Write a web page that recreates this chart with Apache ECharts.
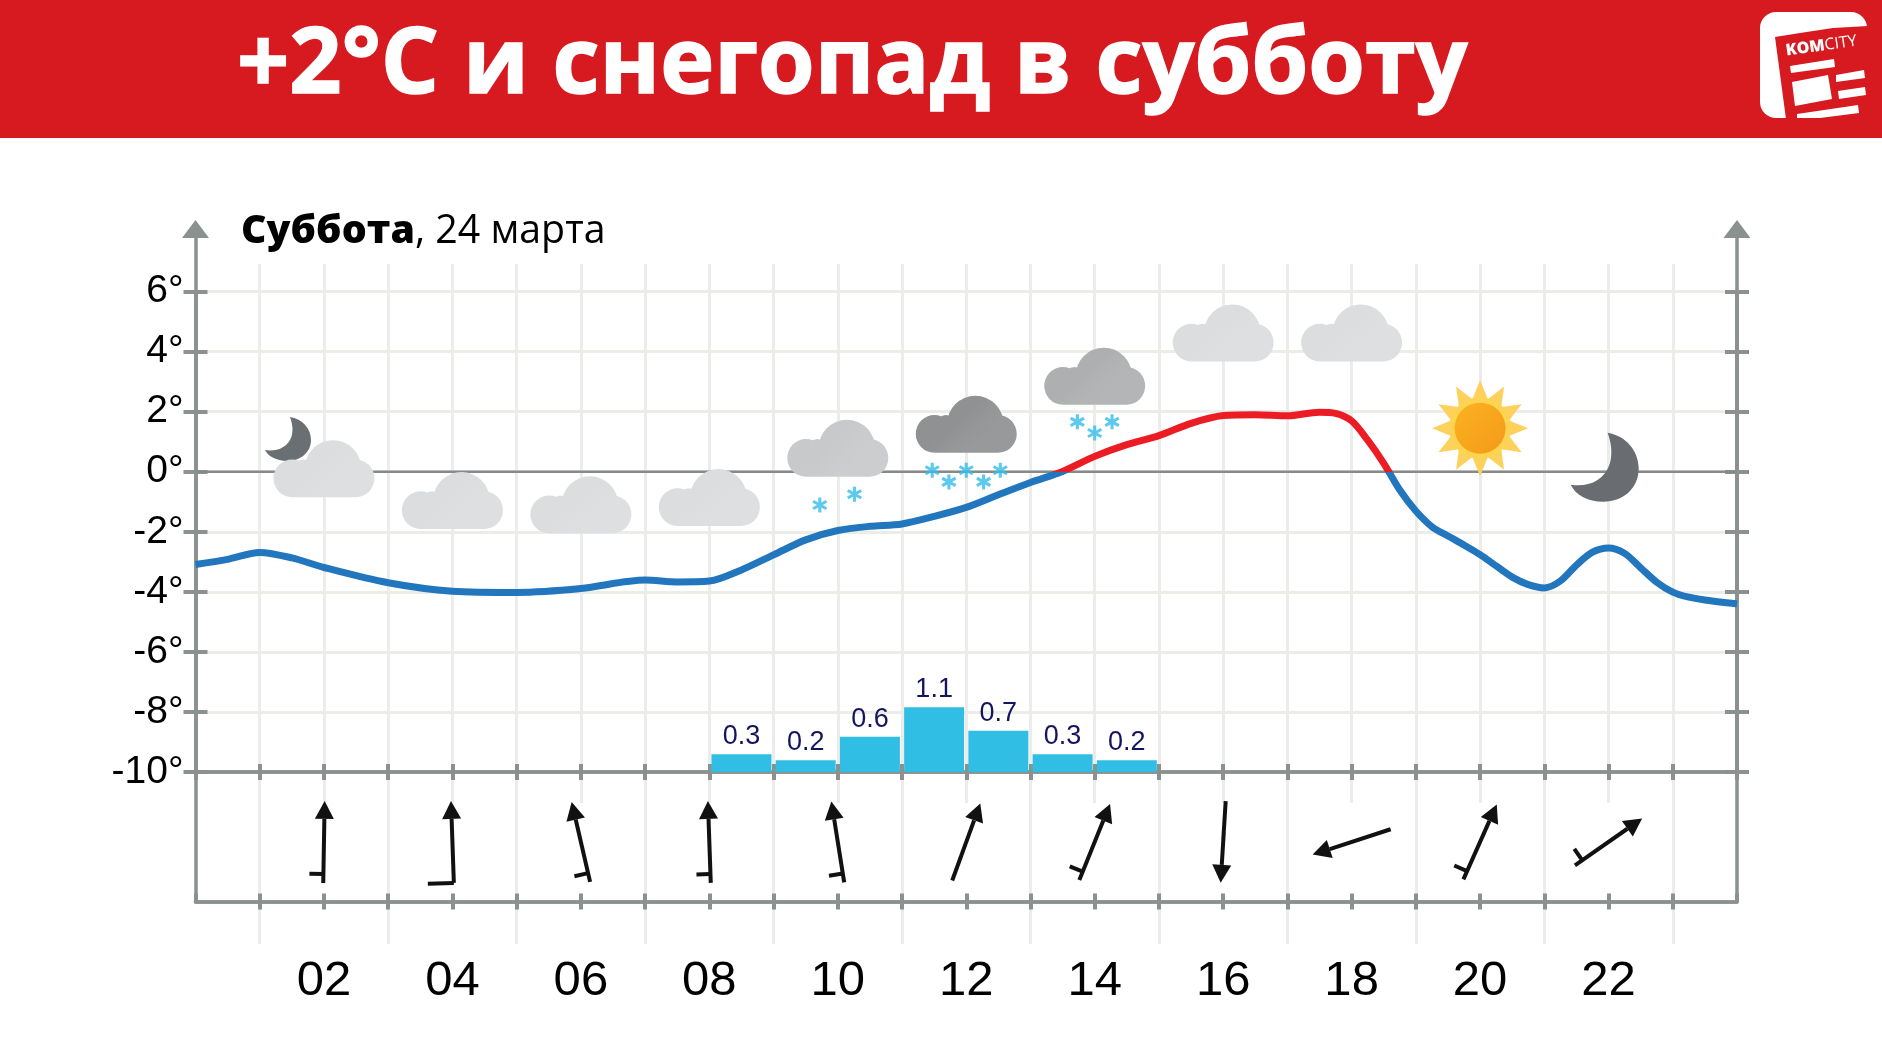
<!DOCTYPE html>
<html lang="ru">
<head>
<meta charset="utf-8">
<title>+2°C и снегопад в субботу</title>
<style>html,body{margin:0;padding:0;background:#fff}#chart{width:1882px;height:1060px}</style>
<script src="https://cdn.jsdelivr.net/npm/echarts@6/dist/echarts.min.js"></script>
</head>
<body>
<div id="chart"></div>
<script>
// ---------- data ----------
const headline = '+2°C и снегопад в субботу';
const dayName = 'Суббота';
const dateText = ', 24 марта';
const tempHours = [0,0.5,1,1.5,2,3,4,5,6,7,7.5,8,8.5,9,9.5,10,10.5,11,11.5,12,12.5,13,13.5,14,14.5,15,15.5,16,16.5,17,17.5,17.75,18,18.25,18.5,18.75,19,19.25,19.5,19.75,20,20.25,20.5,20.75,21,21.25,21.5,21.75,22,22.25,22.5,22.75,23,23.25,23.5,24];
const tempValues = [-3.09,-2.92,-2.69,-2.87,-3.19,-3.7,-3.98,-4.02,-3.89,-3.61,-3.67,-3.64,-3.27,-2.77,-2.27,-1.96,-1.82,-1.74,-1.49,-1.19,-0.77,-0.36,0.01,0.51,0.9,1.2,1.61,1.87,1.9,1.86,1.98,1.94,1.69,1.05,0.28,-0.61,-1.31,-1.83,-2.14,-2.44,-2.76,-3.14,-3.51,-3.76,-3.87,-3.64,-3.11,-2.68,-2.54,-2.72,-3.2,-3.68,-4.01,-4.18,-4.27,-4.4];
const precipHours = [8.5,9.5,10.5,11.5,12.5,13.5,14.5];
const precipValues = [0.3,0.2,0.6,1.1,0.7,0.3,0.2];
const hourLabels = ['02','04','06','08','10','12','14','16','18','20','22'];
const windHours = [2,4,6,8,10,12,14,16,18,20,22];
const windDirections = [1,-2,-13,-2,-9,20,22,183.5,252,24,55];
const windBarbs = [1,2,1,1,1,0,1,0,0,1,1];
const windLevel = [0.46,0.46,0.46,0.46,0.46,0.46,0.46,0.46,0.46,0.46,0.46];
const iconKinds = ['smallMoon','cloud','cloud','cloud','cloud','cloud','cloud','cloud','cloud','cloud','sun','moon'];
const iconHours = [1.44,2,4,6,8,10,12,14,16,18,20,21.94];
const iconTemps = [1.09,0.1,-0.96,-1.1,-0.86,0.78,1.58,3.18,4.62,4.62,1.45,0.15];
const iconColors = ['#6a6f73','#dcddde','#dcddde','#dcddde','#dcddde','#c8c9ca','#909193','#aeafb0','#dcddde','#dcddde','#fed05c','#696d71'];
const snowHours = [9.72,10.26,11.47,11.73,12,12.27,12.53,13.73,14,14.27];
const snowTemps = [-1.11,-0.75,0.05,-0.34,0.05,-0.34,0.05,1.66,1.29,1.66];

// ---------- styles ----------
const AXIS = '#8a918f', GRID = '#ecece8', BLUE = '#2176bd', RED = '#ec1c24', CYAN = '#31bee4';
const L = 195.5, W = 1541.5, FONT = '"Liberation Sans", Arial, sans-serif';
const toPairs = (xs, ys) => xs.map((x, i) => [x, ys[i]]);

const cloudPath = 'M0 37.5a18.5 18.5 0 1 0 37 0a18.5 18.5 0 1 0 -37 0Z' +
  'M20 29a10 10 0 1 0 20 0a10 10 0 1 0 -20 0Z' +
  'M31 28a28 28 0 1 0 56 0a28 28 0 1 0 -56 0Z' +
  'M63 37.5a18.5 18.5 0 1 0 37 0a18.5 18.5 0 1 0 -37 0Z' +
  'M18.5 37L18.5 56L81.5 56L81.5 37Z';
const moonPath = 'M39 0C56 3 68 18 68 36C68 55 54 69 35 69C20 69 9 62 4.5 52C20 55 36 48 41 31C44 20 42 9 39 0Z';
const flakePath = 'path://M-1.5 -7.5L1.5 -7.5L1.5 7.5L-1.5 7.5Z' +
  'M-5.75 -5.05L7.25 2.45L5.75 5.05L-7.25 -2.45Z' +
  'M7.25 -2.45L-5.75 5.05L-7.25 2.45L5.75 -5.05Z';
let starPath = '';
for (let i = 0; i < 24; i++) {
  const r = i % 2 ? 30 : 48, a = i * Math.PI / 12;
  starPath += (i ? 'L' : 'M') + (48 + r * Math.sin(a)).toFixed(2) + ' ' + (48 - r * Math.cos(a)).toFixed(2);
}
starPath += 'Z';

function renderIcon(params, api) {
  const i = params.dataIndex, p = api.coord([api.value(0), api.value(1)]);
  const kind = iconKinds[i], color = iconColors[i], lift = echarts.color.lift;
  const box = (w, h) => ({x: p[0] - w / 2, y: p[1] - h / 2, width: w, height: h});
  if (kind === 'cloud') {
    return {type: 'path', shape: Object.assign({pathData: cloudPath, layout: 'cover'}, box(101, 57)),
      style: {fill: {type: 'linear', x: 0, y: 0, x2: 0.5, y2: 1, colorStops: [
        {offset: 0, color: color}, {offset: 0.62, color: color}, {offset: 0.8, color: lift(color, 0.05)}, {offset: 1, color: lift(color, 0.08)}]}}};
  }
  if (kind === 'moon' || kind === 'smallMoon') {
    const s = kind === 'moon' ? [68, 69] : [46, 44];
    return {type: 'path', shape: Object.assign({pathData: moonPath, layout: 'cover'}, box(s[0], s[1])), style: {fill: color}};
  }
  return {type: 'group', children: [
    {type: 'path', shape: Object.assign({pathData: starPath, layout: 'cover'}, box(96, 96)), style: {fill: color}},
    {type: 'circle', shape: {cx: p[0], cy: p[1], r: 31}, style: {fill: '#fdd452'}},
    {type: 'circle', shape: {cx: p[0], cy: p[1], r: 25.5}, style: {fill: {type: 'linear', x: 0, y: 0, x2: 1, y2: 1, colorStops: [
      {offset: 0, color: '#fcb31f'}, {offset: 1, color: '#f4991b'}]}}}
  ]};
}

function renderWind(params, api) {
  const c = api.coord([api.value(0), api.value(1)]);
  const a = api.value(2) * Math.PI / 180, barb = api.value(3);
  const len = 82, head = 18, half = 9.5;
  const ux = Math.sin(a), uy = -Math.cos(a);      // tail -> tip
  const px = -uy, py = ux;                        // to the right of travel
  const tip = [c[0] + ux * len / 2, c[1] + uy * len / 2];
  const tail = [c[0] - ux * len / 2, c[1] - uy * len / 2];
  const base = [tip[0] - ux * head, tip[1] - uy * head];
  const style = {stroke: '#111', lineWidth: 4, fill: null};
  const kids = [
    {type: 'line', shape: {x1: tail[0], y1: tail[1], x2: base[0], y2: base[1]}, style},
    {type: 'polygon', shape: {points: [tip, [base[0] + px * half, base[1] + py * half], [base[0] - px * half, base[1] - py * half]]}, style: {fill: '#111'}}
  ];
  if (barb) {
    const at = barb === 2 ? 0 : 9, bl = barb === 2 ? 26 : 14;
    const s = [tail[0] + ux * at, tail[1] + uy * at];
    kids.push({type: 'line', shape: {x1: s[0], y1: s[1], x2: s[0] - px * bl, y2: s[1] - py * bl}, style});
  }
  return {type: 'group', children: kids};
}

// ---------- axes helpers ----------
const lineOn = {show: true, onZero: false, lineStyle: {color: AXIS, width: 3.5}};
const off = {show: false};
const hourAxis = (gridIndex, extra) => Object.assign({type: 'value', gridIndex, min: 0, max: 24, interval: 1,
  axisLine: lineOn, axisLabel: off, splitLine: off,
  axisTick: {show: true, length: 8, inside: false, lineStyle: {color: AXIS, width: 4}}}, extra);
const tempAxis = (gridIndex, position, inside, labels) => ({type: 'value', gridIndex, position, min: -10, max: 6, interval: 2,
  axisLine: lineOn,
  axisTick: {show: true, length: 12, inside, lineStyle: {color: AXIS, width: 4}},
  splitLine: {show: !inside && position === 'left', lineStyle: {color: GRID, width: 3}},
  axisLabel: labels ? {show: true, margin: 12, color: '#000', fontFamily: FONT, fontSize: 39, padding: [0, 0, 7, 0], formatter: v => v + '°'} : off});
const plainY = (gridIndex, position, line) => ({type: 'value', gridIndex, position, min: 0, max: 1, axisTick: off, axisLabel: off, splitLine: off,
  axisLine: line || off});
const frameLine = {show: true, onZero: false, symbol: ['none', 'triangle'], symbolSize: [27, 18], lineStyle: {color: AXIS, width: 3.5}};
const hours25 = Array.from({length: 25}, (_, i) => i);
const verticalAxis = (gridIndex, keep) => ({type: 'category', gridIndex, data: hours25, boundaryGap: false, z: -1,
  axisLine: off, axisTick: off, axisLabel: off,
  splitLine: {show: true, interval: keep, lineStyle: {color: GRID, width: 3}}});

const option = {
  animation: false,
  backgroundColor: '#fff',
  title: [
    {text: headline, left: 237, top: 2, padding: 0, textStyle: {color: '#fff', fontFamily: '"Open Sans"', fontWeight: 700, fontSize: 91.5, lineHeight: 130, textBorderColor: '#fff', textBorderWidth: 1.5}},
    {text: '{b|' + dayName + '}{r|' + dateText + '}', left: 241, top: 209, padding: 0,
      textStyle: {rich: {b: {fontFamily: '"Open Sans"', fontWeight: 800, fontSize: 39.3, color: '#000', lineHeight: 46},
                         r: {fontFamily: '"Open Sans"', fontWeight: 400, fontSize: 39.3, color: '#000', lineHeight: 46}}}}
  ],
  grid: [
    {left: L, width: W, top: 291.5, height: 480.5},
    {left: L, width: W, top: 291.5, height: 480.5},
    {left: L, width: W, top: 772, height: 129.5},
    {left: L, width: W, top: 772, height: 129.5},
    {left: L, width: W, top: 229, height: 543},
    {left: L, width: W, top: 264, height: 680},
    {left: L, width: W, top: 264, height: 539}
  ],
  xAxis: [
    hourAxis(0),
    hourAxis(1, {axisTick: {show: true, length: 8, inside: true, lineStyle: {color: AXIS, width: 4}}}),
    hourAxis(2, {axisLabel: {show: true, margin: 55, color: '#000', fontFamily: FONT, fontSize: 49, hideOverlap: false,
      showMinLabel: false, showMaxLabel: false, interval: 0,
      formatter: v => (windHours.indexOf(v) >= 0 ? hourLabels[windHours.indexOf(v)] : '')}}),
    hourAxis(3, {axisTick: {show: true, length: 8, inside: true, lineStyle: {color: AXIS, width: 4}}}),
    {type: 'value', gridIndex: 4, min: 0, max: 24, show: false},
    verticalAxis(5, i => i % 2 === 1),
    verticalAxis(6, i => i % 2 === 0 && i > 0 && i < 24)
  ],
  yAxis: [
    tempAxis(0, 'left', false, true),
    tempAxis(0, 'right', false, false),
    {type: 'value', gridIndex: 0, position: 'right', min: 0, max: 8.15, show: false},
    tempAxis(1, 'left', true, false),
    tempAxis(1, 'right', true, false),
    plainY(2, 'left', lineOn),
    plainY(2, 'right', lineOn),
    plainY(3, 'left'),
    plainY(4, 'left', frameLine),
    plainY(4, 'right', frameLine),
    plainY(5, 'left'),
    plainY(6, 'left')
  ],
  visualMap: {show: false, type: 'piecewise', seriesIndex: 1, dimension: 1,
    pieces: [{gte: -50, lt: 0, color: BLUE}, {gte: 0, lte: 50, color: RED}]},
  series: [
    {name: 'zero', type: 'line', xAxisIndex: 0, yAxisIndex: 0, data: [[0, 0], [24, 0]], symbol: 'none', silent: true, z: 1,
      lineStyle: {color: '#868b89', width: 2.5}},
    {name: 'Температура', type: 'line', xAxisIndex: 0, yAxisIndex: 0, data: toPairs(tempHours, tempValues), smooth: 0.3, symbol: 'none', z: 3,
      lineStyle: {width: 7}},
    {name: 'Осадки', type: 'bar', xAxisIndex: 0, yAxisIndex: 2, data: toPairs(precipHours, precipValues), barWidth: 60, z: 2,
      itemStyle: {color: CYAN},
      label: {show: true, position: 'top', distance: 4, color: '#14145f', fontFamily: FONT, fontSize: 27, formatter: p => p.value[1].toFixed(1)}},
    {name: 'Иконки', type: 'custom', xAxisIndex: 0, yAxisIndex: 0, data: toPairs(iconHours, iconTemps), renderItem: renderIcon, clip: false, z: 4, silent: true},
    {name: 'Снег', type: 'scatter', xAxisIndex: 0, yAxisIndex: 0, data: toPairs(snowHours, snowTemps), symbol: flakePath, symbolSize: 15, z: 4, silent: true,
      itemStyle: {color: '#33bde8'}},
    {name: 'Ветер', type: 'custom', xAxisIndex: 2, yAxisIndex: 5,
      data: windHours.map((h, i) => [h, windLevel[i], windDirections[i], windBarbs[i]]),
      renderItem: renderWind, clip: false, z: 4, silent: true}
  ],
  graphic: [
    {type: 'rect', z: -10, shape: {x: 0, y: 0, width: 1882, height: 138}, style: {fill: '#d71920'}},
    {type: 'rect', z: 1, shape: {x: 1760, y: 12, width: 107, height: 106, r: 16}, style: {fill: '#fff'}},
    {type: 'polygon', z: 2, shape: {points: [[1775,37],[1800,33],[1833,28],[1868,26],[1868,119],[1786,119]]}, style: {fill: '#d71920'}},
    {type: 'text', z: 3, rotation: 0.14, x: 1787, y: 59, style: {x: 0, y: 0, verticalAlign: 'bottom', rich: {
      k: {fontFamily: '"Open Sans"', fontWeight: 800, fontSize: 16, fill: '#fff'},
      c: {fontFamily: '"Open Sans"', fontWeight: 400, fontSize: 16, fill: '#fff'}}, text: '{k|KOM}{c|CITY}'}},
    {type: 'polygon', z: 3, shape: {points: [[1790,66],[1834,59],[1835,67],[1791,73]]}, style: {fill: '#fff'}},
    {type: 'polygon', z: 3, shape: {points: [[1836,75],[1864,70],[1865,78],[1836,82]]}, style: {fill: '#fff'}},
    {type: 'polygon', z: 3, shape: {points: [[1792,82],[1828,75],[1832,99],[1795,106]]}, style: {fill: '#fff'}},
    {type: 'polygon', z: 3, shape: {points: [[1838,91],[1865,87],[1866,95],[1839,99]]}, style: {fill: '#fff'}},
    {type: 'polygon', z: 3, shape: {points: [[1797,114],[1858,105],[1859,113],[1820,118],[1797,118]]}, style: {fill: '#fff'}}
  ]
};
const chart = echarts.init(document.getElementById('chart'), null, {renderer: 'canvas', width: 1882, height: 1060});
chart.setOption(option);
</script>
</body>
</html>
